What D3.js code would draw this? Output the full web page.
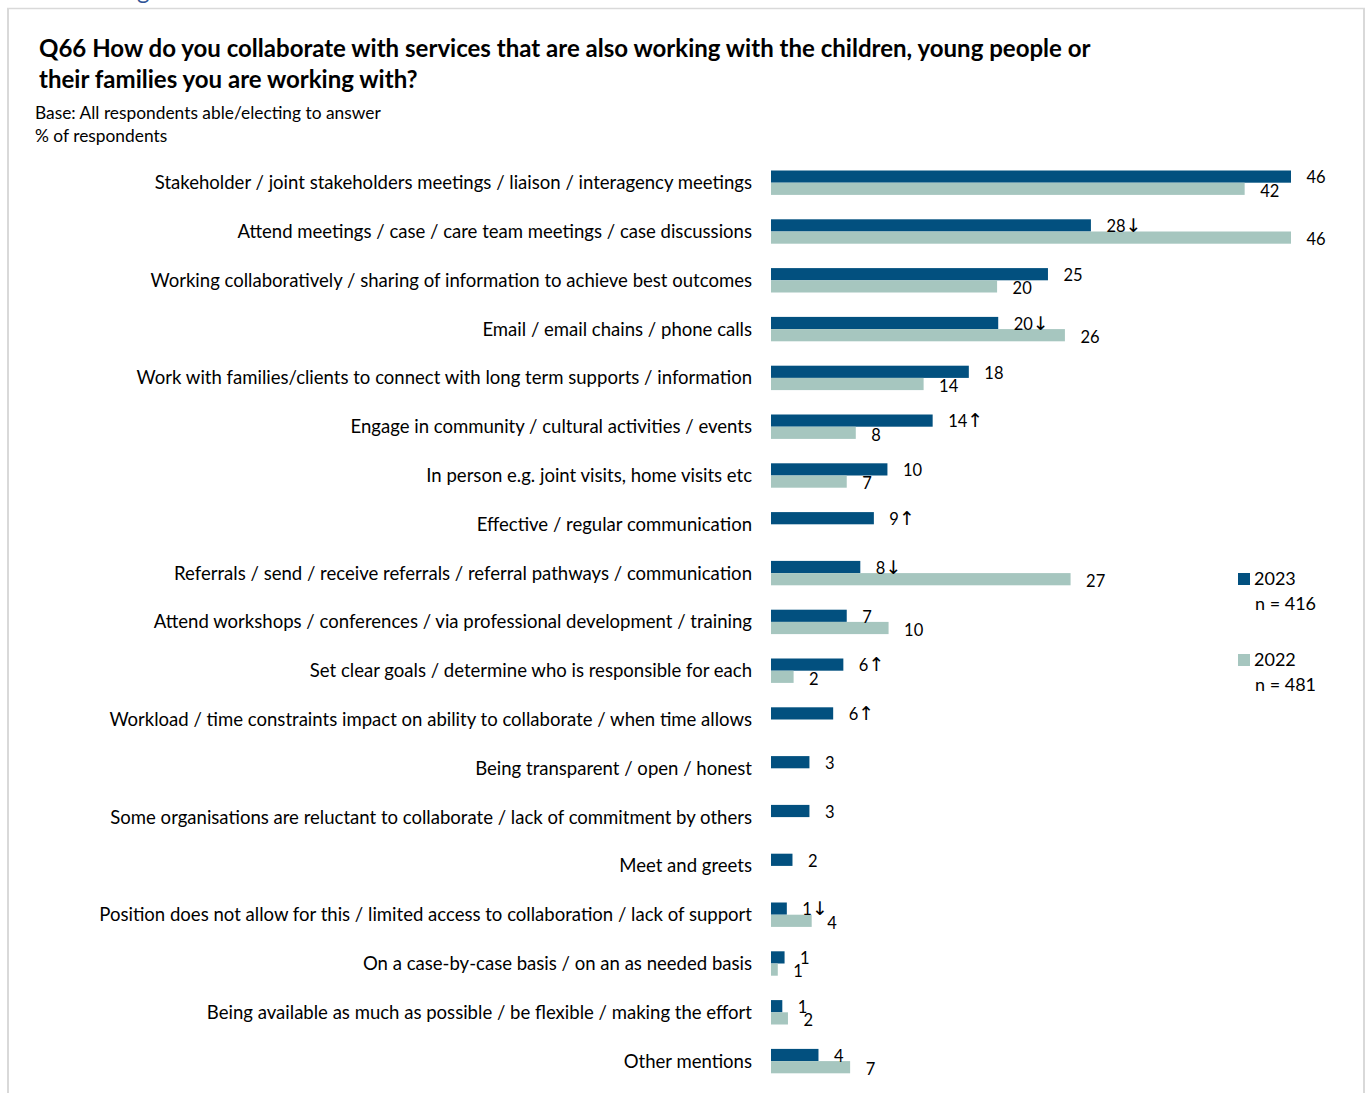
<!DOCTYPE html>
<html>
<head>
<meta charset="utf-8">
<script src="https://cdn.jsdelivr.net/npm/d3@7"></script>
<style>
  html, body { margin: 0; padding: 0; background: #fff; }
  svg { display: block; }
  text { font-family: Lato, "Open Sans", "Liberation Sans", sans-serif; fill: #000; }
</style>
</head>
<body>
<svg id="chart" width="1365" height="1093"></svg>
<script>
// ---- data ----
const categories = [
  "Stakeholder / joint stakeholders meetings / liaison / interagency meetings",
  "Attend meetings / case / care team meetings / case discussions",
  "Working collaboratively / sharing of information to achieve best outcomes",
  "Email / email chains / phone calls",
  "Work with families/clients to connect with long term supports / information",
  "Engage in community / cultural activities / events",
  "In person e.g. joint visits, home visits etc",
  "Effective / regular communication",
  "Referrals / send / receive referrals / referral pathways / communication",
  "Attend workshops / conferences / via professional development / training",
  "Set clear goals / determine who is responsible for each",
  "Workload / time constraints impact on ability to collaborate / when time allows",
  "Being transparent / open / honest",
  "Some organisations are reluctant to collaborate / lack of commitment by others",
  "Meet and greets",
  "Position does not allow for this / limited access to collaboration / lack of support",
  "On a case-by-case basis / on an as needed basis",
  "Being available as much as possible / be flexible / making the effort",
  "Other mentions"
];
// % of respondents (labels show rounded values)
const values2023 = [46, 28.3, 24.5, 20.1, 17.5, 14.3, 10.3, 9.1, 7.9, 6.7, 6.4, 5.5, 3.4, 3.4, 1.9, 1.4, 1.2, 1.0, 4.2];
const values2022 = [41.9, 46, 20.0, 26.0, 13.5, 7.5, 6.7, null, 26.5, 10.4, 2.0, null, null, null, null, 3.6, 0.6, 1.5, 7.0];
// significance markers vs 2022
const sig2023 = ["", "↓", "", "↓", "", "↑", "", "↑", "↓", "", "↑", "↑", "", "", "", "↓", "", "", ""];
const seriesNames = ["2023", "2022"];
const seriesN = ["n = 416", "n = 481"];
const titleLines = [
  "Q66 How do you collaborate with services that are also working with the children, young people or",
  "their families you are working with?"
];
const subtitleLines = ["Base: All respondents able/electing to answer", "% of respondents"];

// ---- styles ----
const colors = { "2023": "#02507f", "2022": "#a6c6bf" };

const svg = d3.select("#chart");

// helper: scale font size so that the widest text reaches target width
function fitFont(sel, refSize, targetWidth) {
  sel.style("font-size", refSize + "px");
  let w = 0;
  sel.each(function() { w = Math.max(w, this.getComputedTextLength()); });
  const fs = refSize * targetWidth / w;
  sel.style("font-size", fs + "px");
  return fs;
}

// frame
const frame = svg.append("g").attr("stroke", "#d9d9d9").attr("fill", "none");
frame.append("line").attr("x1", 7).attr("x2", 1365).attr("y1", 8.5).attr("y2", 8.5).attr("stroke-width", 1.5);
frame.append("line").attr("x1", 8).attr("x2", 8).attr("y1", 8).attr("y2", 1093).attr("stroke-width", 2);
frame.append("line").attr("x1", 1364).attr("x2", 1364).attr("y1", 8).attr("y2", 1093).attr("stroke-width", 2);

// cut-off heading text from the page above
svg.append("text").attr("x", 137).attr("y", -1).style("font-size", "24px").style("fill", "#2f5597").text("g");

// title
const t1 = svg.append("text").attr("x", 39).attr("y", 57).style("font-weight", "bold").text(titleLines[0]);
const tfs = fitFont(t1, 22, 1052);
svg.append("text").attr("x", 39).attr("y", 88).style("font-weight", "bold").style("font-size", tfs + "px").text(titleLines[1]);

// subtitle
const s1 = svg.append("text").attr("x", 35).attr("y", 119).text(subtitleLines[0]);
const sfs = fitFont(s1, 16, 346);
svg.append("text").attr("x", 35).attr("y", 142).style("font-size", sfs + "px").text(subtitleLines[1]);

// scales
const x = d3.scaleLinear().domain([0, 46]).range([771, 1291]);
const y = d3.scaleBand().domain(categories).range([158.3, 158.3 + 19 * 48.8]).paddingInner(0.5).paddingOuter(0.25);
const ySub = d3.scaleBand().domain(seriesNames).range([0, y.bandwidth()]);

// category axis labels
const yAxis = d3.axisLeft(y).tickSize(0).tickPadding(0);
const yAxisG = svg.append("g").attr("transform", "translate(752,0)").call(yAxis);
yAxisG.select(".domain").remove();
const catText = yAxisG.selectAll("text").attr("fill", "#000").attr("dy", "0.35em").attr("y", 0);
fitFont(catText, 17, 653);

// rows data
const rows = categories.map((c, i) => ({ c, i, v: { "2023": values2023[i], "2022": values2022[i] }, sig: sig2023[i] }));
const barData = [];
rows.forEach(r => seriesNames.forEach(s => { if (r.v[s] != null) barData.push({ c: r.c, s, v: r.v[s], sig: s === "2023" ? r.sig : "" }); }));

const barsG = svg.append("g");
barsG.selectAll("rect").data(barData).join("rect")
  .attr("x", x(0))
  .attr("y", d => y(d.c) + ySub(d.s))
  .attr("width", d => x(d.v) - x(0))
  .attr("height", ySub.bandwidth())
  .attr("fill", d => colors[d.s]);

// value labels
const vLabels = barsG.selectAll("text").data(barData).join("text")
  .attr("x", d => x(d.v) + 15.5)
  .attr("y", d => y(d.c) + ySub(d.s) + ySub.bandwidth() / 2 + (d.s === "2022" ? 2 : 1))
  .attr("dy", "0.35em")
  .style("font-size", "16.5px");
vLabels.append("tspan").text(d => Math.round(d.v));
vLabels.filter(d => d.sig).append("tspan")
  .style("font-family", "'Noto Sans', 'DejaVu Sans', sans-serif")
  .style("font-size", "19px")
  .text(d => d.sig);

// legend
const legend = svg.append("g");
const legY = [579, 660];
seriesNames.forEach((s, i) => {
  legend.append("rect").attr("x", 1238).attr("y", legY[i] - 6).attr("width", 12).attr("height", 12).attr("fill", colors[s]);
  legend.append("text").attr("x", 1254).attr("y", legY[i]).attr("dy", "0.35em").style("font-size", "18px").text(s);
  legend.append("text").attr("x", 1255).attr("y", legY[i] + 25).attr("dy", "0.35em").style("font-size", "18px").text(seriesN[i]);
});
</script>
</body>
</html>
